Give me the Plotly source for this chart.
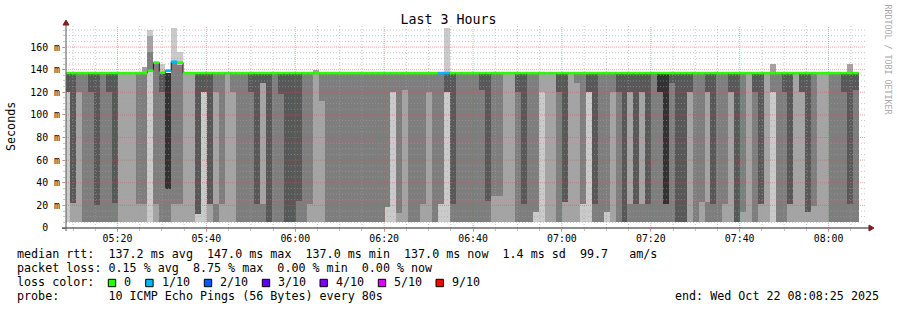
import plotly.graph_objects as go
from datetime import datetime, timedelta

# ---------------- data ----------------
graph_start = "2025-10-22 05:08:25"
graph_end = "2025-10-22 08:08:25"
first_step = "2025-10-22 05:08:05"   # start of first (partial) 80 s step
step_seconds = 80

# smoke shade per column (A lightest ... E darkest) for three bands
shade_top = list("DDCCDDCDDB" "BBCCACDECC" "BBDDDCCBCC" "CDDDDCDDDD" "CCBCCCCCCC"
                 "CCCCCCCCCC" "CCCCDDCCCC" "DDCCBBDDCC" "BBBDDBCCDD" "CCCDDDDDDC"
                 "EEDDDDCCDD" "CCDDCBDDBC" "CDDBDDCBBC" "CDDD")
shade_mid = list("ADBCCDCCDB" "BBCCACCECC" "BBDADBCBBC" "CCDBDCCDDD" "CCBBCCCCCC"
                 "CCCCCACBCC" "CBCCADCCCC" "CDCCBBCDCC" "ABBCDBBCAD" "CCBCDBDBDC"
                 "CECDDBCCBD" "CCBDCBCDBA" "CCDBBDCBBC" "CCDC")
shade_bot = list("ABBCCCCCCB" "BBBBABCCBB" "BBAABCBBBC" "CCCCDCCDDC" "CBBBCCCCCC"
                 "CCCCAABBCC" "BBCAACCCCC" "CCBBBBCCCA" "ABBCBBBAAC" "CABCDCCCCC"
                 "CCCDDBCBCC" "CBBDBBCBBA" "CCBBBBBBBC" "CCCC")

smoke_floor = 5.3        # ms, lower edge of the smoke
low_split = 21.5         # ms, usual bottom/middle boundary
high_split = 120.5       # ms, usual middle/top boundary
smoke_top = 137.0        # ms, usual upper edge of the smoke
low_split_cols = {1: 22, 5: 20, 8: 22, 17: 34.2, 22: 12.4, 39: 23.6, 54: 18.9, 56: 13.6,
                  71: 23.6, 72: 28.6, 73: 28.6, 79: 13.8, 84: 22.7, 91: 13.8, 107: 23,
                  108: 23, 114: 13.8, 125: 13.8, 126: 19.7}
high_split_cols = {33: 128, 36: 118.5, 43: 112, 57: 122, 70: 122, 86: 128, 102: 128, 133: 122}
top_cols = {14: 139.0, 15: 145.6, 18: 146.0, 19: 144.5}

# smoke above the median line: column, low, high, shade
spike_col = [13, 14, 14, 14, 16, 18, 19, 42, 64, 119, 132]
spike_lo = [137.0, 139.7, 155.6, 169.9, 137.0, 146.0, 144.5, 137.0, 137.0, 137.0, 137.0]
spike_hi = [142.4, 155.6, 169.9, 175.3, 145.0, 176.8, 155.6, 139.7, 176.8, 144.6, 144.6]
spike_shade = list("BCBAAAABABB")

median_ms = [
    137.0, 137.0, 137.0, 137.0, 137.0, 137.0, 137.0, 137.0, 137.0, 137.0,
    137.0, 137.0, 137.0, 137.0, 139.1, 146.2, 137.3, 139.1, 147.0, 146.2,
    137.0, 137.0, 137.0, 137.0, 137.0, 137.0, 137.0, 137.0, 137.0, 137.0,
    137.0, 137.0, 137.0, 137.0, 137.0, 137.0, 137.0, 137.0, 137.0, 137.0,
    137.0, 137.0, 137.0, 137.0, 137.0, 137.0, 137.0, 137.0, 137.0, 137.0,
    137.0, 137.0, 137.0, 137.0, 137.0, 137.0, 137.0, 137.0, 137.0, 137.0,
    137.0, 137.0, 137.0, 137.0, 137.0, 137.0, 137.0, 137.0, 137.0, 137.0,
    137.0, 137.0, 137.0, 137.0, 137.0, 137.0, 137.0, 137.0, 137.0, 137.0,
    137.0, 137.0, 137.0, 137.0, 137.0, 137.0, 137.0, 137.0, 137.0, 137.0,
    137.0, 137.0, 137.0, 137.0, 137.0, 137.0, 137.0, 137.0, 137.0, 137.0,
    137.0, 137.0, 137.0, 137.0, 137.0, 137.0, 137.0, 137.0, 137.0, 137.0,
    137.0, 137.0, 137.0, 137.0, 137.0, 137.0, 137.0, 137.0, 137.0, 137.0,
    137.0, 137.0, 137.0, 137.0, 137.0, 137.0, 137.0, 137.0, 137.0, 137.0,
    137.0, 137.0, 137.0, 137.0]
loss_tenths = [
    0, 0, 0, 0, 0, 0, 0, 0, 0, 0,  0, 0, 0, 0, 0, 0, 0, 1, 1, 0,
    0, 0, 0, 0, 0, 0, 0, 0, 0, 0,  0, 0, 0, 0, 0, 0, 0, 0, 0, 0,
    0, 0, 0, 0, 0, 0, 0, 0, 0, 0,  0, 0, 0, 0, 0, 0, 0, 0, 0, 0,
    0, 0, 0, 1, 1, 0, 0, 0, 0, 0,  0, 0, 0, 0, 0, 0, 0, 0, 0, 0,
    0, 0, 0, 0, 0, 0, 0, 0, 0, 0,  0, 0, 0, 0, 0, 0, 0, 0, 0, 0,
    0, 0, 0, 0, 0, 0, 0, 0, 0, 0,  0, 0, 0, 0, 0, 0, 0, 0, 0, 0,
    0, 0, 0, 0, 0, 0, 0, 0, 0, 0,  0, 0, 0, 0]

x_tick_times = ["2025-10-22 05:20", "2025-10-22 05:40", "2025-10-22 06:00", "2025-10-22 06:20",
                "2025-10-22 06:40", "2025-10-22 07:00", "2025-10-22 07:20", "2025-10-22 07:40",
                "2025-10-22 08:00"]
x_tick_labels = ["05:20", "05:40", "06:00", "06:20", "06:40", "07:00", "07:20", "07:40", "08:00"]
y_tick_vals = [0, 20, 40, 60, 80, 100, 120, 140, 160]
y_tick_labels = ["0\u00a0\u00a0", "20 m", "40 m", "60 m", "80 m", "100 m", "120 m", "140 m", "160 m"]

loss_names = ["0", "1/10", "2/10", "3/10", "4/10", "5/10", "9/10"]
loss_levels = [0, 1, 2, 3, 4, 5, 9]
loss_colors = ["#26ff00", "#00b8ff", "#0059ff", "#5e00ff", "#7e00ff", "#dd00ff", "#ff0000"]

legend_lines = [
    "median rtt:  137.2 ms avg  147.0 ms max  137.0 ms min  137.0 ms now  1.4 ms sd  99.7   am/s",
    "packet loss: 0.15 % avg  8.75 % max  0.00 % min  0.00 % now",
    "loss color:",
    "probe:       10 ICMP Echo Pings (56 Bytes) every 80s",
]
end_text = "end: Wed Oct 22 08:08:25 2025"

# ---------------- styling ----------------
MONO = "DejaVu Sans Mono"
SHADE = {"A": "#cacaca", "B": "#a4a4a4", "C": "#7e7e7e", "D": "#585858", "E": "#323232"}
GRID_MINOR = "rgba(160,160,160,0.6)"
GRID_MAJOR = "rgba(222,79,79,0.5)"
W, H = 897, 310
ML, MR, MT, MB = 66, 31, 26, 82
PW, PH = W - ML - MR, H - MT - MB


def px(x):
    return (x - ML) / PW


def py(y):
    return (H - MB - y) / PH


t0 = datetime.fromisoformat(first_step)
n = len(median_ms)
edges = [t0 + timedelta(seconds=step_seconds * j) for j in range(n + 1)]
centers = [t0 + timedelta(seconds=step_seconds * j + step_seconds / 2) for j in range(n)]

lo1 = [low_split_cols.get(j, low_split) for j in range(n)]
lo2 = [high_split_cols.get(j, high_split) for j in range(n)]
lo3 = [top_cols.get(j, smoke_top) for j in range(n)]
lo0 = [smoke_floor] * n

fig = go.Figure()
bands = [(lo0, lo1, shade_bot), (lo1, lo2, shade_mid), (lo2, lo3, shade_top)]
for lo, hi, shades in bands:
    fig.add_trace(go.Bar(
        x=centers, base=lo, y=[h - l for h, l in zip(hi, lo)],
        width=step_seconds * 1000,
        marker=dict(color=[SHADE[s] for s in shades], line=dict(width=0)),
        hoverinfo="skip", showlegend=False))

fig.add_trace(go.Bar(
    x=[centers[c] for c in spike_col], base=spike_lo,
    y=[h - l for h, l in zip(spike_hi, spike_lo)],
    width=step_seconds * 1000,
    marker=dict(color=[SHADE[s] for s in spike_shade], line=dict(width=0)),
    hoverinfo="skip", showlegend=False))

# grid (drawn on top of the smoke, as rrdtool does)
t_start = datetime.fromisoformat(graph_start)
t_end = datetime.fromisoformat(graph_end)
gx_min, gy_min, gx_maj, gy_maj = [], [], [], []
t = datetime(2025, 10, 22, 5, 10)
while t < t_end:
    if t.minute % 20 == 0:
        gx_maj += [t, t, None]; gy_maj += [0, 200, None]
    else:
        gx_min += [t, t, None]; gy_min += [0, 200, None]
    t += timedelta(minutes=5)
v = 5
while v < 180:
    if v % 20 == 0:
        gx_maj += [t_start, t_end, None]; gy_maj += [v, v, None]
    else:
        gx_min += [t_start, t_end, None]; gy_min += [v, v, None]
    v += 5
fig.add_trace(go.Scatter(x=gx_min, y=gy_min, mode="lines", hoverinfo="skip", showlegend=False,
                         line=dict(color=GRID_MINOR, width=1, dash="1px,2px")))
fig.add_trace(go.Scatter(x=gx_maj, y=gy_maj, mode="lines", hoverinfo="skip", showlegend=False,
                         line=dict(color=GRID_MAJOR, width=1, dash="1px,1px")))

# median: dark step line + colored band by loss
fig.add_trace(go.Scatter(x=edges, y=median_ms + [median_ms[-1]], mode="lines",
                         line=dict(color="#202020", width=1, shape="hv"),
                         hoverinfo="skip", showlegend=False))
for lvl, col in zip(loss_levels, loss_colors):
    xs, ys = [], []
    for j in range(n):
        if loss_tenths[j] == lvl:
            xs += [edges[j], edges[j + 1], None]
            ys += [median_ms[j], median_ms[j], None]
    if xs:
        fig.add_trace(go.Scatter(x=xs, y=ys, mode="lines", line=dict(color=col, width=2.6),
                                 hoverinfo="skip", showlegend=False))

# axes lines and arrows (rrdtool style)
AX = "#1f1f1f"
ARROW = "#801f1f"
shapes = [
    dict(type="line", xref="paper", yref="paper", x0=px(62), x1=px(870), y0=0, y1=0,
         line=dict(color=AX, width=1)),
    dict(type="line", xref="paper", yref="paper", x0=0, x1=0, y0=py(231), y1=py(22),
         line=dict(color="#555555", width=1)),
    dict(type="path", xref="paper", yref="paper", fillcolor=ARROW, line=dict(color=ARROW, width=1),
         path=f"M{px(869)},{py(225)} L{px(874)},{py(228)} L{px(869)},{py(231)} Z"),
    dict(type="path", xref="paper", yref="paper", fillcolor=ARROW, line=dict(color=ARROW, width=1),
         path=f"M{px(63)},{py(25)} L{px(66)},{py(20)} L{px(69)},{py(25)} Z"),
]

annotations = []
legend_y = [254.3, 268.3, 282.3, 296.2]
for txt, yy in zip(legend_lines, legend_y):
    annotations.append(dict(text=txt.replace(" ", "\u00a0"), xref="paper", yref="paper",
                            x=px(16), y=py(yy), xanchor="left", yanchor="middle",
                            showarrow=False, borderpad=0,
                            font=dict(family=MONO, size=11.7, color="black")))
annotations.append(dict(text=end_text.replace(" ", "\u00a0"), xref="paper", yref="paper",
                        x=px(880), y=py(296.2), xanchor="right", yanchor="middle",
                        showarrow=False, borderpad=0,
                        font=dict(family=MONO, size=11.7, color="black")))
box_left = [108.3, 145.7, 204.3, 262.3, 320.0, 378.3, 436.0]
for bl, name, col in zip(box_left, loss_names, loss_colors):
    shapes.append(dict(type="rect", xref="paper", yref="paper",
                       x0=px(bl), x1=px(bl + 7.4), y0=py(279.3), y1=py(286.7),
                       fillcolor=col, line=dict(color="black", width=1)))
    annotations.append(dict(text=name, xref="paper", yref="paper", x=px(bl + 15), y=py(282.3),
                            xanchor="left", yanchor="middle", showarrow=False, borderpad=0,
                            font=dict(family=MONO, size=11.7, color="black")))
annotations.append(dict(text="Seconds", xref="paper", yref="paper", x=px(11), y=py(126),
                        xanchor="center", yanchor="middle", textangle=-90, showarrow=False,
                        font=dict(family=MONO, size=11.7, color="black")))
annotations.append(dict(text="RRDTOOL / TOBI OETIKER".replace(" ", "\u00a0"), xref="paper", yref="paper",
                        x=px(887.5), y=py(59), xanchor="center", yanchor="middle", textangle=90,
                        showarrow=False, font=dict(family=MONO, size=8.3, color="#a8a8a8")))

fig.update_layout(
    width=W, height=H, margin=dict(l=ML, r=MR, t=MT, b=MB),
    paper_bgcolor="white", plot_bgcolor="white", showlegend=False,
    barmode="overlay", bargap=0,
    title=dict(text="Last 3 Hours", x=0.5, xanchor="center", y=1 - 19 / H, yanchor="middle",
               font=dict(family=MONO, size=13.3, color="black")),
    xaxis=dict(type="date", range=[graph_start, graph_end], showgrid=False, zeroline=False,
               showline=False, tickvals=x_tick_times, ticktext=x_tick_labels,
               ticks="outside", ticklen=3, tickcolor=GRID_MAJOR, ticklabelstandoff=-2,
               minor=dict(ticks="outside", ticklen=2, tickcolor=GRID_MINOR, dtick=300000,
                          tick0="2025-10-22 05:10", showgrid=False),
               tickfont=dict(family=MONO, size=9.9, color="black")),
    yaxis=dict(range=[0, PH / 1.131], showgrid=False, zeroline=False, showline=False,
               tickvals=y_tick_vals, ticktext=y_tick_labels, ticks="outside", ticklen=3,
               tickcolor=GRID_MAJOR,
               minor=dict(ticks="outside", ticklen=2, tickcolor=GRID_MINOR, dtick=5,
                          showgrid=False),
               tickfont=dict(family=MONO, size=9.9, color="black")),
    shapes=shapes, annotations=annotations,
)

fig.write_html("out.html")
